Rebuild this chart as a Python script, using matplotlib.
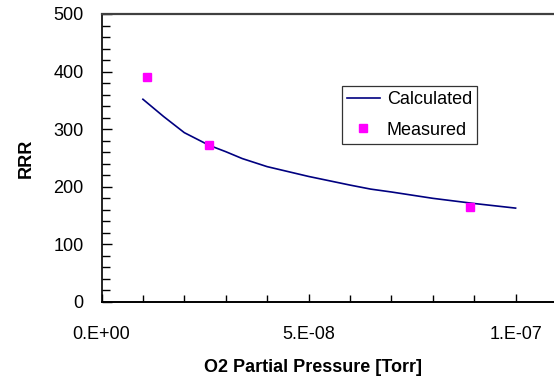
import numpy as np
import matplotlib
matplotlib.use("Agg")
import matplotlib.pyplot as plt
from matplotlib.ticker import MultipleLocator, FuncFormatter

# calculated curve
calc_p = [1.0e-8, 1.5e-8, 2.0e-8, 2.6e-8, 3.0e-8, 3.4e-8, 4.0e-8, 5.0e-8,
          6.0e-8, 6.5e-8, 7.0e-8, 8.0e-8, 9.0e-8, 1.0e-7]
calc_rrr = [352, 322, 294, 272, 261, 249, 235, 218, 203, 196, 191, 180, 171, 163]

# measured points
meas_p = [1.1e-8, 2.6e-8, 8.9e-8]
meas_rrr = [390, 272, 165]

xticks = [0.0, 5e-8, 1e-7]
xtick_labels = ["0.E+00", "5.E-08", "1.E-07"]

plt.rcParams['font.family'] = ['Liberation Sans', 'DejaVu Sans']

W, H = 554, 382
fig = plt.figure(figsize=(W / 100, H / 100), dpi=100)
left, right, top, bottom = 101.5, 557.0, 14.0, 302.0
ax = fig.add_axes([left / W, 1 - bottom / H, (right - left) / W, (bottom - top) / H])

ax.plot(calc_p, calc_rrr, color='#000080', lw=1.2, label='Calculated')
ax.plot(meas_p, meas_rrr, ls='none', marker='s', ms=5.5, color='#FF00FF',
        mec='#FF00FF', label='Measured')

ax.set_xlim(0, 1.1e-7)
ax.set_ylim(0, 500)
ax.set_xticks(xticks)
ax.set_xticklabels(xtick_labels)
ax.xaxis.set_minor_locator(MultipleLocator(1e-8))
ax.yaxis.set_major_locator(MultipleLocator(100))
ax.yaxis.set_minor_locator(MultipleLocator(20))

ax.tick_params(which='both', direction='in', labelsize=13, color='black')
ax.tick_params(axis='x', which='major', length=6, width=1, pad=17)
ax.tick_params(axis='x', which='minor', length=5, width=1)
ax.tick_params(axis='y', which='major', length=7, width=1, pad=13)
ax.tick_params(axis='y', which='minor', length=6, width=1)

ax.spines['right'].set_visible(False)
ax.spines['top'].set_color('#404040')
ax.spines['top'].set_linewidth(1.6)
ax.spines['bottom'].set_linewidth(1.4)
ax.spines['left'].set_linewidth(1.2)

fig.text(313 / W, 1 - 368 / H, 'O2 Partial Pressure [Torr]', ha='center', va='center',
         fontsize=13, fontweight='bold')
fig.text(26 / W, 1 - 158 / H, 'RRR', ha='center', va='center', rotation=90,
         fontsize=13, fontweight='bold')

leg = ax.legend(loc='center', bbox_to_anchor=(409.5 / W, 1 - 115 / H),
                bbox_transform=fig.transFigure, fontsize=13, frameon=True,
                fancybox=False, handlelength=1.8, handletextpad=0.4,
                borderpad=0.3, labelspacing=0.75, borderaxespad=0)
leg.get_frame().set_edgecolor('black')
leg.get_frame().set_linewidth(0.9)

fig.savefig('out.png', dpi=100)
